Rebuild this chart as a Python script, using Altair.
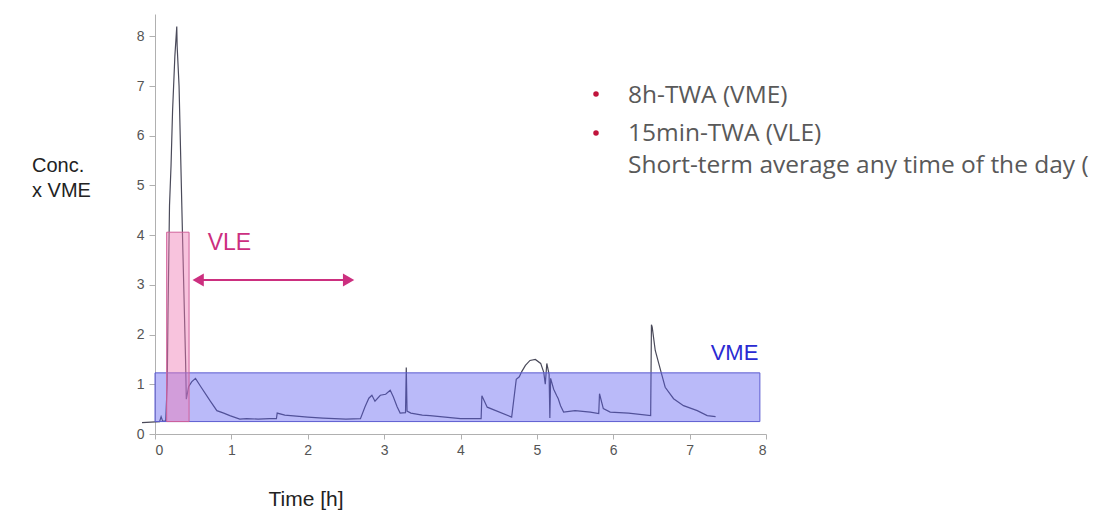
import altair as alt
import pandas as pd

# ---- measured concentration trace (time in h, concentration as multiple of VME)
t_vals = [-0.17, 0.06, 0.08, 0.10, 0.14, 0.16, 0.17, 0.19, 0.21, 0.23, 0.26, 0.285, 0.29, 0.315,
          0.36, 0.40, 0.41, 0.44, 0.48, 0.53, 0.6, 0.72, 0.81, 0.9, 0.98, 1.11, 1.2, 1.35, 1.5,
          1.59, 1.6, 1.7, 1.85, 2.0, 2.2, 2.5, 2.69, 2.75, 2.8, 2.84, 2.88, 2.95, 3.02, 3.08,
          3.12, 3.17, 3.21, 3.28, 3.29, 3.30, 3.35, 3.5, 3.6, 3.8, 4.0, 4.27, 4.28, 4.35, 4.67,
          4.73, 4.77, 4.8, 4.85, 4.91, 4.98, 5.05, 5.09, 5.11, 5.13, 5.16, 5.17, 5.18, 5.22,
          5.26, 5.28, 5.31, 5.35, 5.5, 5.7, 5.81, 5.82, 5.87, 5.96, 6.2, 6.49, 6.5, 6.51, 6.55,
          6.62, 6.68, 6.79, 6.92, 7.1, 7.23, 7.34]
c_vals = [0.23, 0.25, 0.35, 0.26, 0.26, 1.0, 2.4, 4.6, 5.4, 6.5, 7.6, 8.2, 7.8, 7.0,
          4.0, 1.5, 0.7, 0.95, 1.05, 1.12, 0.95, 0.67, 0.47, 0.42, 0.37, 0.3, 0.31, 0.3, 0.31,
          0.31, 0.42, 0.38, 0.36, 0.34, 0.32, 0.3, 0.31, 0.55, 0.72, 0.78, 0.66, 0.78, 0.8, 0.88,
          0.75, 0.55, 0.42, 0.43, 1.34, 0.46, 0.42, 0.38, 0.37, 0.34, 0.31, 0.31, 0.77, 0.54, 0.34,
          1.1, 1.15, 1.25, 1.38, 1.48, 1.5, 1.42, 1.24, 1.0, 1.42, 1.2, 0.32, 1.12, 0.9,
          0.77, 0.71, 0.57, 0.44, 0.47, 0.44, 0.41, 0.81, 0.51, 0.44, 0.42, 0.37, 2.2, 2.15, 1.68,
          1.28, 0.94, 0.71, 0.57, 0.47, 0.37, 0.35]

# ---- limit boxes
box_names = ["VME", "VLE"]
box_t0 = [0.0, 0.153]
box_t1 = [7.92, 0.446]
box_c0 = [0.25, 0.25]
box_c1 = [1.23, 4.06]

# ---- VLE arrow extent (h) and level
arrow_t = [0.565, 2.535]
arrow_c = 3.1

x_ticks = [0, 1, 2, 3, 4, 5, 6, 7, 8]
y_ticks = [0, 1, 2, 3, 4, 5, 6, 7, 8]

bullets = ["8h-TWA (VME)", "15min-TWA (VLE)"]
bullet_extra = "Short-term average any time of the day ("

trace = pd.DataFrame({"t": t_vals, "c": c_vals})
boxes = pd.DataFrame({"name": box_names, "t0": box_t0, "t1": box_t1, "c0": box_c0, "c1": box_c1})

xs = alt.Scale(domain=[0, 8], nice=False, zero=False)
ys = alt.Scale(domain=[0, 8.45], nice=False, zero=False)

xax = alt.Axis(values=x_ticks, format="d", grid=False, title=None, labelFontSize=14,
               labelColor="#555555", labelFont="Liberation Sans", domainColor="#b0b0b0",
               tickColor="#b0b0b0", tickSize=5, labelPadding=4)
yax = alt.Axis(values=y_ticks, format="d", grid=False, title=None, labelFontSize=14,
               labelColor="#555555", labelFont="Liberation Sans", domainColor="#b0b0b0",
               tickColor="#b0b0b0", tickSize=6, labelPadding=5)

line = alt.Chart(trace).mark_line(color="#4a4a5a", strokeWidth=1.2, interpolate="linear").encode(
    x=alt.X("t:Q", scale=xs, axis=xax),
    y=alt.Y("c:Q", scale=ys, axis=yax),
    order="t:Q",
)

vme_box = alt.Chart(boxes).transform_filter(alt.datum.name == "VME").mark_rect(
    fill="#5a5af0", fillOpacity=0.42, stroke="#5c5cd0", strokeWidth=1
).encode(x="t0:Q", x2="t1", y="c0:Q", y2="c1")

vle_box = alt.Chart(boxes).transform_filter(alt.datum.name == "VLE").mark_rect(
    fill="#f07ab4", fillOpacity=0.45, stroke="#d0609a", strokeWidth=1
).encode(x="t0:Q", x2="t1", y="c0:Q", y2="c1")

arrow_df = pd.DataFrame({"t0": [arrow_t[0]], "t1": [arrow_t[1]], "c": [arrow_c]})
arrow_line = alt.Chart(arrow_df).mark_rule(color="#cc2f7f", strokeWidth=2).encode(
    x="t0:Q", x2="t1", y="c:Q")
heads = pd.DataFrame({"t": arrow_t, "c": [arrow_c, arrow_c], "shape": ["triangle-left", "triangle-right"]})
arrow_heads = alt.Chart(heads).mark_point(filled=True, color="#cc2f7f", opacity=1, size=170).encode(
    x="t:Q", y="c:Q",
    shape=alt.Shape("shape:N", scale=None, legend=None))

one = alt.Data(values=[{"a": 1}])

vle_label = alt.Chart(one).mark_text(text="VLE", font="Liberation Sans", fontSize=23,
                                     color="#cc2f7f", align="left", baseline="middle").encode(
    x=alt.datum(0.69), y=alt.datum(3.85))
vme_label = alt.Chart(one).mark_text(text="VME", font="Liberation Sans", fontSize=22,
                                     color="#2a2ad2", align="right", baseline="middle").encode(
    x=alt.datum(7.9), y=alt.datum(1.63))

conc1 = alt.Chart(one).mark_text(text="Conc.", font="Liberation Sans", fontSize=20, color="#222222",
                                 align="left", baseline="middle", x=-123, y=152)
conc2 = alt.Chart(one).mark_text(text="x VME", font="Liberation Sans", fontSize=20, color="#222222",
                                 align="left", baseline="middle", x=-123, y=177)
time_title = alt.Chart(one).mark_text(text="Time [h]", font="Liberation Sans", fontSize=21,
                                      color="#222222", align="center", baseline="middle",
                                      x=151, y=486)

b1 = alt.Chart(one).mark_text(text=bullets[0], font="Open Sans", fontSize=24.5, color="#595959",
                              align="left", baseline="middle", x=473, y=82)
b2 = alt.Chart(one).mark_text(text=bullets[1], font="Open Sans", fontSize=24.5, color="#595959",
                              align="left", baseline="middle", x=473, y=120)
b3 = alt.Chart(one).mark_text(text=bullet_extra, font="Open Sans", fontSize=24.5, color="#595959",
                              align="left", baseline="middle", x=473, y=152)
d1 = alt.Chart(one).mark_point(filled=True, shape="circle", size=30, color="#c0143c",
                               opacity=1, x=441, y=80)
d2 = alt.Chart(one).mark_point(filled=True, shape="circle", size=30, color="#c0143c",
                               opacity=1, x=441, y=119)

chart = alt.layer(
    line, vme_box, vle_box, arrow_line, arrow_heads, vle_label, vme_label,
    conc1, conc2, time_title, b1, b2, b3, d1, d2
).properties(
    width=611, height=420,
    background="white",
    autosize=alt.AutoSizeParams(type="none"),
    padding={"left": 147, "top": 6, "right": 329, "bottom": 86},
).configure_view(strokeWidth=0, stroke=None)

chart.save("out.html", embed_options={"renderer": "svg", "actions": False})
